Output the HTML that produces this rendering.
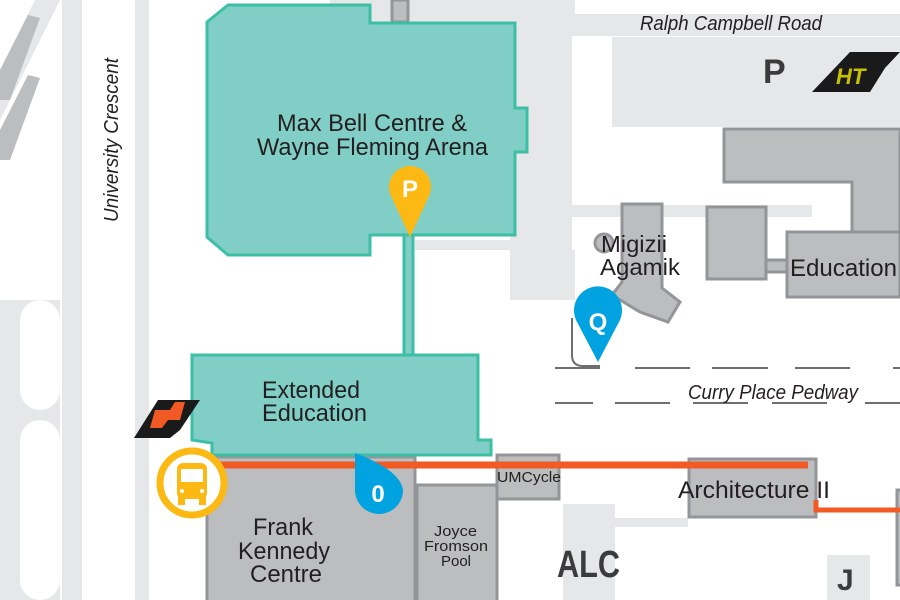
<!DOCTYPE html>
<html><head><meta charset="utf-8"><style>
html,body{margin:0;padding:0;background:#fff;}
svg{display:block;}
text{font-family:"Liberation Sans",sans-serif;fill:#231f20;}
</style></head><body>
<svg width="900" height="600" viewBox="0 0 900 600" xmlns="http://www.w3.org/2000/svg">
<!-- roads / grey background -->
<g fill="#e6e7e8">
<rect x="62" y="0" width="20" height="600"/>
<rect x="135" y="0" width="14" height="600"/>
<rect x="0" y="300" width="60" height="300"/>
<rect x="330" y="0" width="245" height="36"/>
<rect x="575" y="14" width="325" height="22"/>
<rect x="612" y="37" width="288" height="90"/>
<rect x="510" y="0" width="62" height="300"/>
<rect x="572" y="205" width="240" height="12"/>
<rect x="515" y="250" width="60" height="50"/>
<rect x="563" y="504" width="52" height="96"/>
<rect x="615" y="518" width="73" height="9"/>
<rect x="827" y="555" width="43" height="45"/>
<rect x="415" y="240" width="100" height="10"/>
</g>
<g fill="#fff">
<rect x="572" y="40" width="40" height="20" rx="8"/>
<rect x="572" y="75" width="40" height="30" rx="8"/>
<rect x="572" y="127" width="150" height="78" rx="8"/>
<rect x="20" y="300" width="40" height="110" rx="20"/>
<rect x="20" y="420" width="40" height="180" rx="20"/>
</g>
<g fill="#e6e7e8">
<polygon points="60,0 0,120 0,70 35,0"/>
</g>
<g fill="#bcbdbf">
<polygon points="40,18 10,100 0,100 0,70 28,15"/>
<polygon points="40,78 10,160 0,160 0,130 28,75"/>
</g>
<!-- parking / HT -->
<text x="763" y="83" font-size="34" style="font-weight:bold;fill:#3b3b3b">P</text>
<polygon points="812,92 850,52 900,52 885,68 870,92" fill="#1a1a1a"/>
<text x="836" y="84" font-size="22" style="font-weight:bold;font-style:italic;fill:#c8c000">HT</text>
<!-- grey buildings -->
<g fill="#bcbdbf" stroke="#939598" stroke-width="3">
<path d="M724,129 H900 V232 H852 V182 H724 Z"/>
<rect x="787" y="232" width="113" height="65"/>
<rect x="707" y="207" width="59" height="72"/>
<rect x="766" y="260" width="21" height="12"/>
<path d="M622,204 H662 V288 L680,302 L668,322 L640,312 L612,295 L622,282 Z"/>
<rect x="207" y="457" width="208" height="145"/>
<rect x="417" y="485" width="80" height="117"/>
<rect x="497" y="455" width="62" height="44"/>
<rect x="689" y="459" width="127" height="58"/>
<rect x="897" y="490" width="10" height="95"/>
<rect x="392" y="0" width="16" height="22"/>
</g>
<circle cx="604" cy="243" r="9" fill="#bcbdbf" stroke="#939598" stroke-width="3"/>
<!-- teal buildings -->
<g fill="#80cec5" stroke="#3dbfa6" stroke-width="3">
<polygon points="207,22 228,5 370,5 370,23 515,23 515,108 527,108 527,152 515,152 515,235 370,235 370,255 228,255 207,237"/>
<rect x="404" y="235" width="9" height="122"/>
<polygon points="192,355 478,355 478,440 491,440 491,455 212,455 212,443 192,440"/>
</g>
<!-- orange route -->
<path d="M215,465 H808" stroke="#f15a24" stroke-width="7" fill="none"/>
<path d="M816,500 V510 H900" stroke="#f15a24" stroke-width="5" fill="none"/>
<!-- pedway dashes -->
<g stroke="#6d6e71" stroke-width="2" fill="none">
<path d="M555,368 H600 M635,368 H690 M712,368 H768 M795,368 H850 M893,368 H900"/>
<path d="M555,403 H593 M615,403 H670 M693,403 H748 M772,403 H827 M865,403 H900"/>
<path d="M572,318 V355 Q572,366 583,366 H600"/>
</g>
<!-- transit icon left -->
<polygon points="134,438 158,400 200,400 180,430 170,438" fill="#1a1a1a"/>
<polygon points="155,410 170,410 175,402 185,402 180,420 168,420 162,428 150,428" fill="#f15a24"/>
<!-- bus circle -->
<circle cx="192" cy="483" r="32" fill="#fff" stroke="#fdb913" stroke-width="7"/>
<rect x="177" y="463" width="30" height="36" rx="6" fill="#fdb913"/>
<rect x="181" y="469" width="22" height="13" fill="#fff"/>
<rect x="178" y="497" width="7" height="8" fill="#fdb913"/>
<rect x="199" y="497" width="7" height="8" fill="#fdb913"/>
<circle cx="182" cy="491" r="2" fill="#fff"/><circle cx="202" cy="491" r="2" fill="#fff"/>
<!-- pins -->
<path d="M410,237 L391,196 A21,21 0 1 1 429,196 Z" fill="#fdb913"/>
<text x="410" y="197" text-anchor="middle" font-size="24" style="fill:#fff;font-weight:bold">P</text>
<path d="M598,362 L576,320 A24,24 0 1 1 620,320 Z" fill="#00a3e0"/>
<text x="598" y="330" text-anchor="middle" font-size="24" style="fill:#fff;font-weight:bold">Q</text>
<path d="M355,453 Q400,470 403,490 A24,24 0 1 1 355,490 Z" fill="#00a3e0"/>
<text x="378" y="502" text-anchor="middle" font-size="24" style="fill:#fff;font-weight:bold">0</text>
<!-- labels -->
<g lengthAdjust="spacingAndGlyphs">
<text x="277" y="131" font-size="24" textLength="190" lengthAdjust="spacingAndGlyphs">Max Bell Centre &amp;</text>
<text x="257" y="155" font-size="24" textLength="231" lengthAdjust="spacingAndGlyphs">Wayne Fleming Arena</text>
<text x="262" y="398" font-size="24" textLength="98" lengthAdjust="spacingAndGlyphs">Extended</text>
<text x="262" y="421" font-size="24" textLength="105" lengthAdjust="spacingAndGlyphs">Education</text>
<text x="253" y="535" font-size="24" textLength="60" lengthAdjust="spacingAndGlyphs">Frank</text>
<text x="238" y="559" font-size="24" textLength="92" lengthAdjust="spacingAndGlyphs">Kennedy</text>
<text x="250" y="582" font-size="24" textLength="72" lengthAdjust="spacingAndGlyphs">Centre</text>
<text x="434" y="536" font-size="15" textLength="43" lengthAdjust="spacingAndGlyphs">Joyce</text>
<text x="424" y="551" font-size="15" textLength="64" lengthAdjust="spacingAndGlyphs">Fromson</text>
<text x="441" y="566" font-size="15" textLength="30" lengthAdjust="spacingAndGlyphs">Pool</text>
<text x="497" y="482" font-size="15" textLength="64" lengthAdjust="spacingAndGlyphs">UMCycle</text>
<text x="678" y="498" font-size="24" textLength="152" lengthAdjust="spacingAndGlyphs">Architecture II</text>
<text x="601" y="252" font-size="23" textLength="66" lengthAdjust="spacingAndGlyphs">Migizii</text>
<text x="600" y="275" font-size="23" textLength="80" lengthAdjust="spacingAndGlyphs">Agamik</text>
<text x="790" y="276" font-size="24" textLength="107" lengthAdjust="spacingAndGlyphs">Education</text>
<text x="557" y="577" font-size="38" textLength="63" lengthAdjust="spacingAndGlyphs" style="font-weight:bold;fill:#3b3b3b">ALC</text>
<text x="837" y="590" font-size="30" style="font-weight:bold;fill:#3b3b3b">J</text>
<text x="640" y="30" font-size="20" font-style="italic" textLength="182" lengthAdjust="spacingAndGlyphs">Ralph Campbell Road</text>
<text x="688" y="399" font-size="20" font-style="italic" textLength="170" lengthAdjust="spacingAndGlyphs">Curry Place Pedway</text>
<text transform="translate(118,222) rotate(-90)" font-size="20" font-style="italic" textLength="164" lengthAdjust="spacingAndGlyphs">University Crescent</text>
</g>
</svg>
</body></html>
